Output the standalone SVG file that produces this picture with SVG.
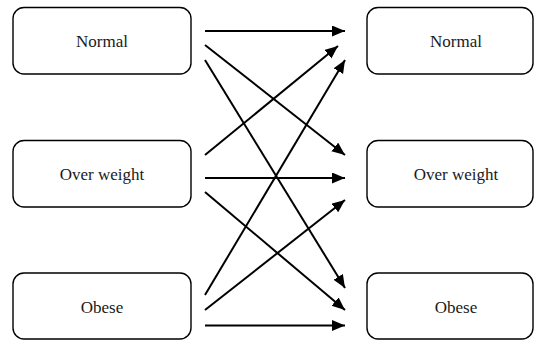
<svg xmlns="http://www.w3.org/2000/svg" width="535" height="340" viewBox="0 0 535 340">
<style>
.box{fill:#fff;stroke:#000;stroke-width:1.4}
.c line{stroke:#000;stroke-width:2;marker-end:url(#ah)}
</style>
<defs>
<marker id="ah" markerUnits="userSpaceOnUse" markerWidth="14" markerHeight="12" refX="13" refY="5.5" orient="auto">
<path d="M0,0 L13,5.5 L0,11 z" fill="#000"/>
</marker>
</defs>
<rect width="535" height="340" fill="#fff"/>
<g font-family="Liberation Serif, serif" font-size="17" fill="#1a1a1a" text-anchor="middle">
<g id="l-normal"><rect class="box" x="13" y="7.5" width="178" height="66.5" rx="11"/><text x="102" y="47">Normal</text></g>
<g id="l-over"><rect class="box" x="13" y="140.5" width="178" height="66.5" rx="11"/><text x="102" y="180">Over weight</text></g>
<g id="l-obese"><rect class="box" x="13" y="273" width="178" height="66" rx="11"/><text x="102" y="313">Obese</text></g>
<g id="r-normal"><rect class="box" x="367" y="7.5" width="166" height="66.5" rx="11"/><text x="456" y="47">Normal</text></g>
<g id="r-over"><rect class="box" x="367" y="140.5" width="166" height="66.5" rx="11"/><text x="456" y="180">Over weight</text></g>
<g id="r-obese"><rect class="box" x="367" y="273" width="166" height="66" rx="11"/><text x="456" y="313">Obese</text></g>
</g>
<g class="c" id="connectors">
<line x1="205" y1="31" x2="345" y2="31"/>
<line x1="205" y1="45" x2="345" y2="155"/>
<line x1="205" y1="60" x2="345" y2="288"/>
<line x1="205" y1="155" x2="338" y2="46"/>
<line x1="205" y1="178" x2="345" y2="178"/>
<line x1="205" y1="192" x2="345" y2="310"/>
<line x1="205" y1="295" x2="345" y2="60"/>
<line x1="205" y1="310" x2="345" y2="200"/>
<line x1="205" y1="325.5" x2="345" y2="325.5"/>
</g>
</svg>
